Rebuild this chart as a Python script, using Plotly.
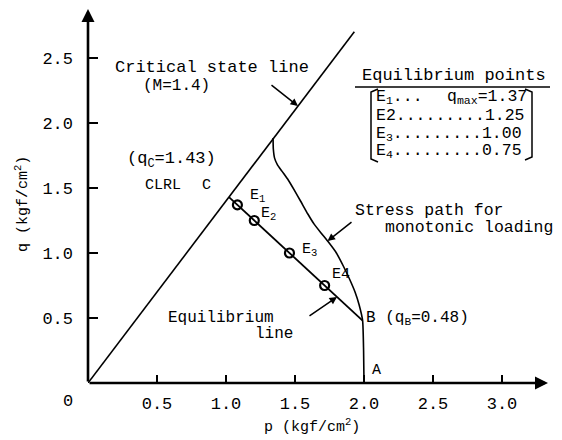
import numpy as np
import plotly.graph_objects as go

# ---- data -------------------------------------------------------------
M = 1.4                      # slope of the critical state line
csl_p_end = 1.93             # p where the drawn critical state line stops
q_C = 1.43                   # equilibrium line meets the CSL (point C)
p_B, q_B = 1.99, 0.48        # point B on the stress path

# stress path for monotonic loading, from A up to the critical state line
path_p = [2.000, 1.997, 1.990, 1.965, 1.935, 1.895, 1.850, 1.800, 1.745, 1.692,
          1.640, 1.593, 1.540, 1.497, 1.452, 1.405, 1.372, 1.352, 1.343, 1.341]
path_q = [0.00, 0.25, 0.48, 0.60, 0.70, 0.80, 0.90, 1.00, 1.08, 1.15,
          1.22, 1.30, 1.40, 1.48, 1.56, 1.63, 1.68, 1.73, 1.80, 1.885]

eq_names = ["E1", "E2", "E3", "E4"]
eq_q = [1.37, 1.25, 1.00, 0.75]

x_ticks = [0.5, 1.0, 1.5, 2.0, 2.5, 3.0]
y_ticks = [0.5, 1.0, 1.5, 2.0, 2.5]

# ---- geometry helpers -------------------------------------------------
W, H = 562, 440
ML, MR, MT, MB = 88, 12, 6, 57
PW, PH = W - ML - MR, H - MT - MB
PX_PER_P, PX_PER_Q = 138.0, 130.0
x_max = PW / PX_PER_P
y_max = PH / PX_PER_Q


def dx(px):
    return (px - ML) / PX_PER_P


def dy(py):
    return (H - MB - py) / PX_PER_Q


def fx(px):
    return (px - ML) / PW


def fy(py):
    return (H - MB - py) / PH


p_C = q_C / M
eq_p = [p_C + (q_C - q) * (p_B - p_C) / (q_C - q_B) for q in eq_q]

FONT = "Liberation Mono"
INK = "black"

fig = go.Figure()

# critical state line
fig.add_trace(go.Scatter(x=[0, csl_p_end], y=[0, M * csl_p_end], mode="lines",
                         line=dict(color=INK, width=1.6), hoverinfo="skip"))
# stress path
fig.add_trace(go.Scatter(x=path_p, y=path_q, mode="lines",
                         line=dict(color=INK, width=1.6, shape="spline", smoothing=0.5),
                         hoverinfo="skip"))
# equilibrium line C-B
fig.add_trace(go.Scatter(x=[p_C, p_B], y=[q_C, q_B], mode="lines",
                         line=dict(color=INK, width=1.8), hoverinfo="skip"))
# equilibrium points
fig.add_trace(go.Scatter(x=eq_p, y=eq_q, mode="markers",
                         marker=dict(symbol="circle-open", size=9, color=INK,
                                     line=dict(color=INK, width=2.2)),
                         hoverinfo="skip"))

ann = []


def label(text, px, py, xanchor="left", size=16, **kw):
    ann.append(dict(text=text, x=fx(px), y=fy(py), xref="paper", yref="paper",
                    xanchor=xanchor, yanchor="middle", showarrow=False,
                    font=dict(family=FONT, size=size, color=INK), **kw))


def leader(tip, tail, width=1.5):
    ann.append(dict(text="", x=tip[0], y=tip[1], ax=tail[0], ay=tail[1],
                    xref="x", yref="y", axref="x", ayref="y", showarrow=True,
                    arrowhead=2, arrowsize=1.0, arrowwidth=width,
                    arrowcolor=INK, standoff=0))


# axes with arrowheads
leader((dx(548), 0), (0, 0), width=2.6)
leader((0, dy(9)), (0, 0), width=2.6)

# leader lines pointing at the curves
csl_tip_p = dx(298)
leader((csl_tip_p, M * csl_tip_p), (dx(270), dy(84)))
sp_tip_q = dy(241)
sp_tip_p = float(np.interp(sp_tip_q, path_q, path_p))
leader((sp_tip_p, sp_tip_q), (dx(353), dy(221)))
el_tip_p = dx(337)
el_tip_q = q_C - (el_tip_p - p_C) * (q_C - q_B) / (p_B - p_C)
leader((el_tip_p, el_tip_q), (dx(308), dy(317)))

# text labels
label("Critical state line", 113, 67, size=17)
label("(M=1.4)", 141, 86, size=16)
label("(q<sub>C</sub>=1.43)", 125, 160, size=17)
label("CLRL", 143, 185, size=15)
label("C", 200, 185, size=15)
label("E<sub>1</sub>", 248, 196, size=15)
label("E<sub>2</sub>", 259, 214, size=15)
label("E<sub>3</sub>", 300, 250, size=15)
label("E4", 330, 274, size=15)
label("Equilibrium", 166, 318, size=16)
label("line", 253, 334, size=16)
label("Stress path for", 353, 210, size=16.5)
label("monotonic loading", 383, 227, size=16.5)
label("B (q<sub>B</sub>=0.48)", 364, 318, size=16)
label("A", 370, 370, size=15)
label("0", 68, 402, xanchor="center", size=17)

# table of equilibrium points
label("Equilibrium points", 360, 75, size=17)
label("E<sub>1</sub>...", 374, 97, size=16.5)
label("q<sub>max</sub>=1.37", 529, 97, xanchor="right", size=16.5)
label("E2.........1.25", 374, 116, size=16.5)
label("E<sub>3</sub>.........1.00", 374, 134, size=16.5)
label("E<sub>4</sub>.........0.75", 374, 151, size=16.5)

# axis titles
label("p (kgf/cm<sup>2</sup>)", 312, 426, xanchor="center", size=15)
label("q (kgf/cm<sup>2</sup>)", 22, 204, xanchor="center", size=15, textangle=-90)

# underline and brackets around the table
shapes = [
    dict(type="line", x0=dx(355), x1=dx(552), y0=dy(87), y1=dy(87),
         xref="x", yref="y", line=dict(color=INK, width=1.5)),
    dict(type="path", xref="x", yref="y", line=dict(color=INK, width=1.5),
         path=f"M{dx(378)},{dy(89)} L{dx(371)},{dy(92)} L{dx(371)},{dy(159)} L{dx(378)},{dy(162)}"),
    dict(type="path", xref="x", yref="y", line=dict(color=INK, width=1.5),
         path=f"M{dx(525)},{dy(89)} L{dx(532)},{dy(92)} L{dx(532)},{dy(157)} L{dx(525)},{dy(160)}"),
]

axis_common = dict(showline=False, showgrid=False, zeroline=False, ticks="inside",
                   tickwidth=2, tickcolor=INK, tickformat=".1f",
                   tickfont=dict(family=FONT, size=17, color=INK))

fig.update_layout(
    width=W, height=H,
    margin=dict(l=ML, r=MR, t=MT, b=MB),
    paper_bgcolor="white", plot_bgcolor="white",
    showlegend=False,
    xaxis=dict(range=[0, x_max], tickvals=x_ticks, ticklen=8,
               ticklabelstandoff=8, **axis_common),
    yaxis=dict(range=[0, y_max], tickvals=y_ticks, ticklen=10,
               ticklabelstandoff=14, **axis_common),
    annotations=ann,
    shapes=shapes,
)

fig.write_html("out.html")
